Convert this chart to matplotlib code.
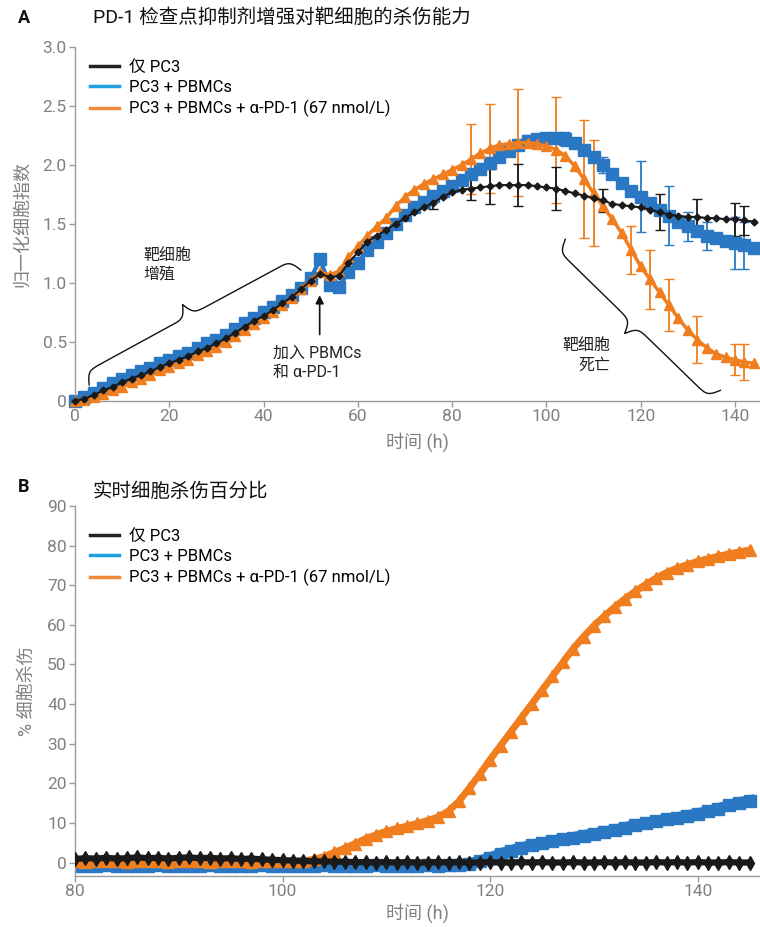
import numpy as np
import matplotlib
matplotlib.use('Agg')
import matplotlib.pyplot as plt
from matplotlib.lines import Line2D

plt.rcParams['font.family'] = ['Roboto', 'Noto Sans CJK SC', 'DejaVu Sans']

# ---- panel A: normalized cell index, sampled every 2 h ----
t_a = np.arange(0, 145, 2)
pc3_a = [0.00, 0.02, 0.05, 0.09, 0.12, 0.16, 0.19, 0.22, 0.25, 0.29, 0.32, 0.35, 0.38,
         0.42, 0.45, 0.49, 0.53, 0.58, 0.63, 0.68, 0.72, 0.77, 0.83, 0.88, 0.95,
         1.02, 1.08, 1.05, 1.06, 1.17, 1.26, 1.35, 1.40, 1.45, 1.50, 1.55, 1.60, 1.64,
         1.68, 1.73, 1.77, 1.79, 1.80, 1.81, 1.82, 1.83, 1.83, 1.83, 1.83, 1.82,
         1.81, 1.80, 1.78, 1.76, 1.74, 1.72, 1.70, 1.67, 1.66, 1.65, 1.64, 1.62,
         1.60, 1.58, 1.57, 1.56, 1.56, 1.55, 1.55, 1.54, 1.54, 1.53, 1.52]
pbmc_a = [0.00, 0.03, 0.07, 0.11, 0.15, 0.19, 0.22, 0.25, 0.28, 0.32, 0.35, 0.38, 0.41,
          0.45, 0.49, 0.52, 0.56, 0.61, 0.66, 0.70, 0.75, 0.80, 0.85, 0.90, 0.96,
          1.04, 1.20, 0.98, 0.97, 1.09, 1.17, 1.28, 1.35, 1.42, 1.50, 1.58, 1.64, 1.69,
          1.74, 1.78, 1.82, 1.87, 1.92, 1.97, 2.02, 2.07, 2.12, 2.17, 2.20, 2.22,
          2.23, 2.23, 2.22, 2.19, 2.13, 2.07, 2.00, 1.92, 1.85, 1.78, 1.73, 1.68,
          1.62, 1.57, 1.52, 1.48, 1.44, 1.40, 1.38, 1.36, 1.34, 1.32, 1.30]
pd1_a = [0.00, 0.01, 0.03, 0.06, 0.09, 0.12, 0.16, 0.19, 0.22, 0.26, 0.29, 0.32, 0.35,
         0.39, 0.42, 0.46, 0.50, 0.55, 0.60, 0.65, 0.70, 0.75, 0.81, 0.87, 0.95,
         1.02, 1.09, 1.07, 1.10, 1.22, 1.31, 1.40, 1.48, 1.55, 1.65, 1.73, 1.79, 1.84,
         1.88, 1.92, 1.96, 2.00, 2.05, 2.10, 2.14, 2.17, 2.18, 2.19, 2.19, 2.18,
         2.16, 2.13, 2.08, 1.99, 1.88, 1.76, 1.65, 1.54, 1.42, 1.28, 1.14, 1.03,
         0.92, 0.81, 0.70, 0.60, 0.52, 0.45, 0.40, 0.37, 0.35, 0.33, 0.32]

# error bars (time, half-width)
pc3_err_t = [76, 84, 88, 94, 102, 112, 124, 132, 140, 142]
pc3_err = [0.05, 0.10, 0.15, 0.18, 0.18, 0.10, 0.15, 0.15, 0.14, 0.12]
pbmc_err_t = [96, 104, 112, 120, 126, 130, 134, 140, 142]
pbmc_err = [0.05, 0.06, 0.07, 0.30, 0.25, 0.12, 0.12, 0.22, 0.20]
pd1_err_t = [84, 88, 94, 102, 108, 110, 118, 122, 126, 132, 140, 142]
pd1_err = [0.30, 0.38, 0.45, 0.45, 0.50, 0.45, 0.20, 0.25, 0.22, 0.20, 0.13, 0.15]

# ---- panel B: % cytolysis, sampled every 1 h ----
t_b = np.arange(80, 146)
pc3_b = [0.9, 1.1, 1.0, 1.2, 1.0, 1.1, 1.3, 1.1, 1.2, 1.0, 1.2, 1.3, 1.1, 1.2, 1.0,
         1.1, 0.9, 1.0, 0.8, 0.7,
         0.6, 0.5, 0.4, 0.3, 0.3, 0.2, 0.2, 0.1, 0.1, 0.0,
         0.1, 0.0, 0.1, 0.0, 0.0, 0.1, 0.0, 0.1, 0.0, 0.0,
         0.1, 0.0, 0.0, 0.1, 0.0, 0.1, 0.0, 0.0, 0.1, 0.0,
         0.0, 0.1, 0.0, 0.1, 0.0, 0.0, 0.1, 0.0, 0.1, 0.0,
         0.1, 0.0, 0.0, 0.1, 0.0, 0.0]
pbmc_b = [-0.8, -0.9, -0.8, -0.7, -0.8, -0.9, -0.8, -0.8, -0.7, -0.8,
          -0.9, -0.8, -0.8, -0.7, -0.8, -0.9, -0.8, -0.8, -0.7, -0.8,
          -0.8, -0.9, -0.8, -0.8, -0.7, -0.8, -0.9, -0.8, -0.8, -0.7,
          -0.8, -0.8, -0.9, -0.8, -0.7, -0.8, -0.7, -0.6,
          -0.3, 0.4, 1.2, 2.2, 3.0, 3.7, 4.3, 4.9, 5.4, 5.9, 6.3, 6.8, 7.2, 7.7,
          8.2, 8.8, 9.4, 9.9, 10.4, 10.9, 11.3, 11.8, 12.3, 12.9, 13.6, 14.4, 15.1, 15.6]
pd1_b = [0.3, 0.2, 0.3, 0.4, 0.3, 0.2, 0.3, 0.4, 0.3, 0.2,
         0.3, 0.4, 0.3, 0.2, 0.3, 0.4, 0.3, 0.2, 0.3, 0.4,
         0.3, 0.3, 0.4,
         0.8, 1.5, 2.6, 3.6, 4.8, 6.0, 7.0, 7.9, 8.6, 9.2, 9.9, 10.6, 11.5, 13.0,
         15.5, 18.8, 22.3, 26.0, 29.5, 33.0, 36.5, 40.0, 43.5, 47.0, 50.5, 54.0,
         57.0, 59.8, 62.2, 64.5, 66.6, 68.5, 70.2, 71.8, 73.2, 74.3, 75.2, 76.0,
         76.7, 77.3, 77.9, 78.4, 78.9]

labels = ['仅 PC3', 'PC3 + PBMCs', 'PC3 + PBMCs + α-PD-1 (67 nmol/L)']
c_black = '#1a1a1a'
c_blue = '#2a78c4'
c_orange = '#f07d1e'
leg_colors = ['#222222', '#1ea0e0', '#f08a3c']
gray = '#808080'


def style_axes(ax):
    for s in ['top', 'right']:
        ax.spines[s].set_visible(False)
    for s in ['left', 'bottom']:
        ax.spines[s].set_color('#9a9a9a')
        ax.spines[s].set_linewidth(1.0)
    ax.tick_params(direction='out', length=4, width=1, color='#9a9a9a',
                   labelcolor=gray, labelsize=12.5, pad=2)


def add_legend(ax, y):
    handles = [Line2D([], [], color=c, lw=2.5) for c in leg_colors]
    ax.legend(handles, labels, loc='upper left', bbox_to_anchor=(0.022, y),
              frameon=False, fontsize=12, handlelength=1.75, handletextpad=0.6,
              labelspacing=0.3, borderpad=0, borderaxespad=0)


def draw_brace(ax, p1, p2, w=13, beta=0.35):
    # curly brace between two data points, tip on the CCW side of p1->p2
    a = ax.transData.transform(p1)
    b = ax.transData.transform(p2)
    d = b - a
    L = np.hypot(*d)
    u = d / L
    n = np.array([-u[1], u[0]])
    xh = np.linspace(0, L / 2, 200)
    yh = 1 / (1 + np.exp(-beta * (xh - xh[0]))) + 1 / (1 + np.exp(-beta * (xh - xh[-1])))
    xs = np.concatenate([xh, L - xh[::-1]])
    ys = (np.concatenate([yh, yh[::-1]]) - 0.5) * 2 * w
    pts = a + np.outer(xs, u) + np.outer(ys, n)
    dat = ax.transData.inverted().transform(pts)
    ax.plot(dat[:, 0], dat[:, 1], color='#111111', lw=1.0, zorder=6, clip_on=False)


fig = plt.figure(figsize=(7.6, 9.27), dpi=100)

# ---------------- A ----------------
axA = fig.add_axes([75 / 760, 1 - 401 / 927, 685 / 760, 354 / 927])
style_axes(axA)
axA.set_xlim(0, 145.3)
axA.set_ylim(0, 3.0)
axA.set_xticks([0, 20, 40, 60, 80, 100, 120, 140])
axA.set_yticks([0, 0.5, 1.0, 1.5, 2.0, 2.5, 3.0])
axA.set_yticklabels(['0', '0.5', '1.0', '1.5', '2.0', '2.5', '3.0'])

lookA = {'pc3': dict(zip(t_a, pc3_a)), 'pbmc': dict(zip(t_a, pbmc_a)), 'pd1': dict(zip(t_a, pd1_a))}
axA.errorbar(pbmc_err_t, [lookA['pbmc'][t] for t in pbmc_err_t], yerr=pbmc_err,
             fmt='none', ecolor=c_blue, elinewidth=1.3, capsize=3.5, zorder=1)
axA.errorbar(pd1_err_t, [lookA['pd1'][t] for t in pd1_err_t], yerr=pd1_err,
             fmt='none', ecolor=c_orange, elinewidth=1.3, capsize=3.5, zorder=1)
axA.errorbar(pc3_err_t, [lookA['pc3'][t] for t in pc3_err_t], yerr=pc3_err,
             fmt='none', ecolor=c_black, elinewidth=1.3, capsize=3.5, zorder=1)

axA.plot(t_a, pbmc_a, color=c_blue, lw=3, marker='s', ms=8, mec=c_blue, zorder=2, clip_on=False)
axA.plot(t_a, pd1_a, color=c_orange, lw=2.5, marker='^', ms=7.5, mec=c_orange, zorder=3, clip_on=False)
axA.plot(t_a, pc3_a, color=c_black, lw=1.5, marker='D', ms=3.5, mec=c_black, zorder=4, clip_on=False)

axA.set_xlabel('时间 (h)', fontsize=13, color=gray, labelpad=6)
axA.set_ylabel('归一化细胞指数', fontsize=13, color=gray, labelpad=8)
add_legend(axA, 0.963)

draw_brace(axA, (3, 0.136), (47.9, 1.11))
draw_brace(axA, (136.9, 0.09), (104, 1.37))
axA.text(14.4, 1.155, '靶细胞\n增殖', fontsize=11.5, color='#222222', ha='left', va='center', linespacing=1.35)
axA.text(113.6, 0.386, '靶细胞\n死亡', fontsize=11.5, color='#222222', ha='right', va='center',
         multialignment='right', linespacing=1.35)
axA.annotate('', xy=(51.9, 0.92), xytext=(51.9, 0.54),
             arrowprops=dict(arrowstyle='-|>', color='#111111', lw=1.2, mutation_scale=12))
axA.text(41.9, 0.32, '加入 PBMCs\n和 α-PD-1', fontsize=11.5, color='#222222', ha='left', va='center',
         linespacing=1.35)

# ---------------- B ----------------
axB = fig.add_axes([75 / 760, 1 - 876 / 927, 685 / 760, 370 / 927])
style_axes(axB)
axB.set_xlim(80, 146)
axB.set_ylim(-3.4, 90)
axB.set_xticks([80, 100, 120, 140])
axB.set_yticks(range(0, 91, 10))

axB.plot(t_b, pbmc_b, color=c_blue, lw=8, marker='s', ms=9, mec=c_blue, zorder=2)
axB.plot(t_b, pd1_b, color=c_orange, lw=5, marker='^', ms=8.5, mec=c_orange, zorder=3)
axB.plot(t_b, pc3_b, color=c_black, lw=4.5, marker='d', ms=7, mec=c_black, zorder=4)

axB.set_xlabel('时间 (h)', fontsize=13, color=gray, labelpad=3)
axB.set_ylabel('% 细胞杀伤', fontsize=13, color=gray, labelpad=8)
add_legend(axB, 0.938)

fig.text(18 / 760, 1 - 18 / 927, 'A', fontsize=13, fontweight='bold', va='center', color='#111111')
fig.text(93 / 760, 1 - 18 / 927, 'PD-1 检查点抑制剂增强对靶细胞的杀伤能力', fontsize=14,
         va='center', color='#111111')
fig.text(18 / 760, 1 - 487 / 927, 'B', fontsize=13, fontweight='bold', va='center', color='#111111')
fig.text(93 / 760, 1 - 492 / 927, '实时细胞杀伤百分比', fontsize=14, va='center', color='#111111')

fig.savefig('out.png', dpi=100)
